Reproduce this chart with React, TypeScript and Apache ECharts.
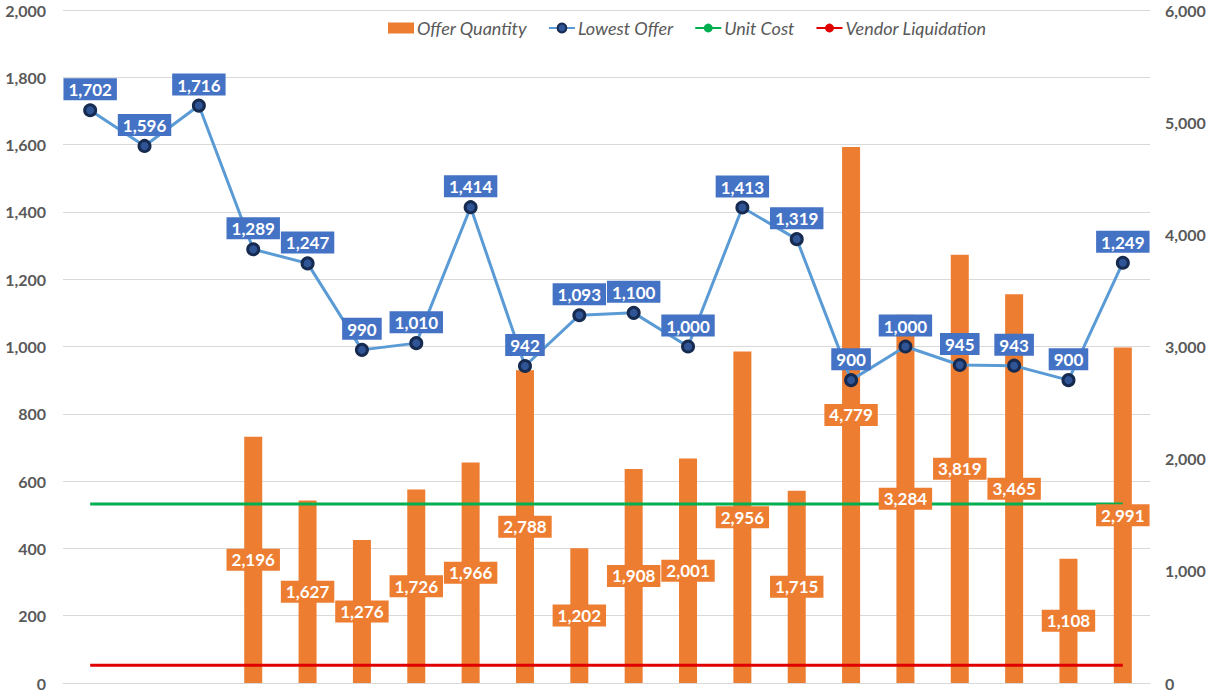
import React, { useEffect, useRef } from "react";
import * as echarts from "echarts";

const categories = ["1","2","3","4","5","6","7","8","9","10","11","12","13","14","15","16","17","18","19","20"];
const offerQuantity: (number | null)[] = [null, null, null, 2196, 1627, 1276, 1726, 1966, 2788, 1202, 1908, 2001, 2956, 1715, 4779, 3284, 3819, 3465, 1108, 2991];
const lowestOffer = [1702, 1596, 1716, 1289, 1247, 990, 1010, 1414, 942, 1093, 1100, 1000, 1413, 1319, 900, 1000, 945, 943, 900, 1249];
const unitCost = categories.map(() => 532);
const vendorLiquidation = categories.map(() => 53);

const FONT = "Lato, 'Open Sans', sans-serif";

export default function App() {
  const ref = useRef<HTMLDivElement>(null);
  useEffect(() => {
    if (!ref.current) return;
    const chart = echarts.init(ref.current, undefined, { renderer: "svg" });
    const fmt = (v: number) => v.toLocaleString("en-US");
    const labelBase = {
      show: true,
      color: "#fff",
      fontSize: 17,
      fontWeight: "bold",
      fontFamily: FONT,
      padding: [3, 5, 2, 5],
      formatter: (p: any) => fmt(p.value),
    };
    chart.setOption({
      animation: false,
      textStyle: { fontFamily: FONT },
      legend: {
        top: 14,
        left: 383,
        itemGap: 21,
        itemWidth: 26,
        itemHeight: 11,
        textStyle: { fontFamily: FONT, fontStyle: "italic", fontSize: 18, color: "#595959", padding: [0, 0, 0, -2] },
        data: [
          { name: "Offer Quantity", icon: "rect" },
          { name: "Lowest Offer" },
          { name: "Unit Cost" },
          { name: "Vendor Liquidation" },
        ],
      },
      grid: { left: 63, right: 63, top: 10, bottom: 14, containLabel: false },
      xAxis: {
        type: "category",
        data: categories,
        axisLine: { show: true, lineStyle: { color: "#D9D9D9" } },
        axisTick: { show: false },
        axisLabel: { show: false },
      },
      yAxis: [
        {
          type: "value",
          min: 0,
          max: 2000,
          interval: 200,
          axisLine: { show: false },
          axisTick: { show: false },
          splitLine: { lineStyle: { color: "#D9D9D9" } },
          axisLabel: {
            margin: 17,
            color: "#595959",
            fontSize: 16,
            fontWeight: "bold",
            fontFamily: FONT,
            formatter: (v: number) => fmt(v),
          },
        },
        {
          type: "value",
          min: 0,
          max: 6000,
          interval: 1000,
          axisLine: { show: false },
          axisTick: { show: false },
          splitLine: { show: false },
          axisLabel: {
            margin: 15,
            color: "#595959",
            fontSize: 16,
            fontWeight: "bold",
            fontFamily: FONT,
            formatter: (v: number) => fmt(v),
          },
        },
      ],
      series: [
        {
          name: "Offer Quantity",
          type: "bar",
          yAxisIndex: 1,
          data: offerQuantity,
          barWidth: 18,
          itemStyle: { color: "#ED7D31" },
          z: 1,
        },
        {
          name: "Offer Quantity Labels",
          type: "bar",
          yAxisIndex: 1,
          data: offerQuantity,
          barWidth: 18,
          barGap: "-100%",
          itemStyle: { color: "rgba(0,0,0,0)" },
          label: { ...labelBase, position: "inside", backgroundColor: "#ED7D31" },
          silent: true,
          z: 6,
        },
        {
          name: "Unit Cost",
          type: "line",
          data: unitCost,
          symbol: "none",
          lineStyle: { color: "#00B050", width: 3 },
          itemStyle: { color: "#00B050" },
          z: 3,
        },
        {
          name: "Vendor Liquidation",
          type: "line",
          data: vendorLiquidation,
          symbol: "none",
          lineStyle: { color: "#E00000", width: 3 },
          itemStyle: { color: "#E00000" },
          z: 3,
        },
        {
          name: "Lowest Offer",
          type: "line",
          data: lowestOffer,
          symbol: "circle",
          symbolSize: 11,
          lineStyle: { color: "#5B9BD5", width: 3 },
          itemStyle: { color: "#2F5597", borderColor: "#172B50", borderWidth: 3 },
          label: { ...labelBase, position: "top", distance: 3, backgroundColor: "#4472C4" },
          z: 7,
        },
      ],
    });
    return () => chart.dispose();
  }, []);
  return <div ref={ref} style={{ width: 1213, height: 697, position: "absolute", left: 0, top: 0, background: "#fff" }} />;
}
